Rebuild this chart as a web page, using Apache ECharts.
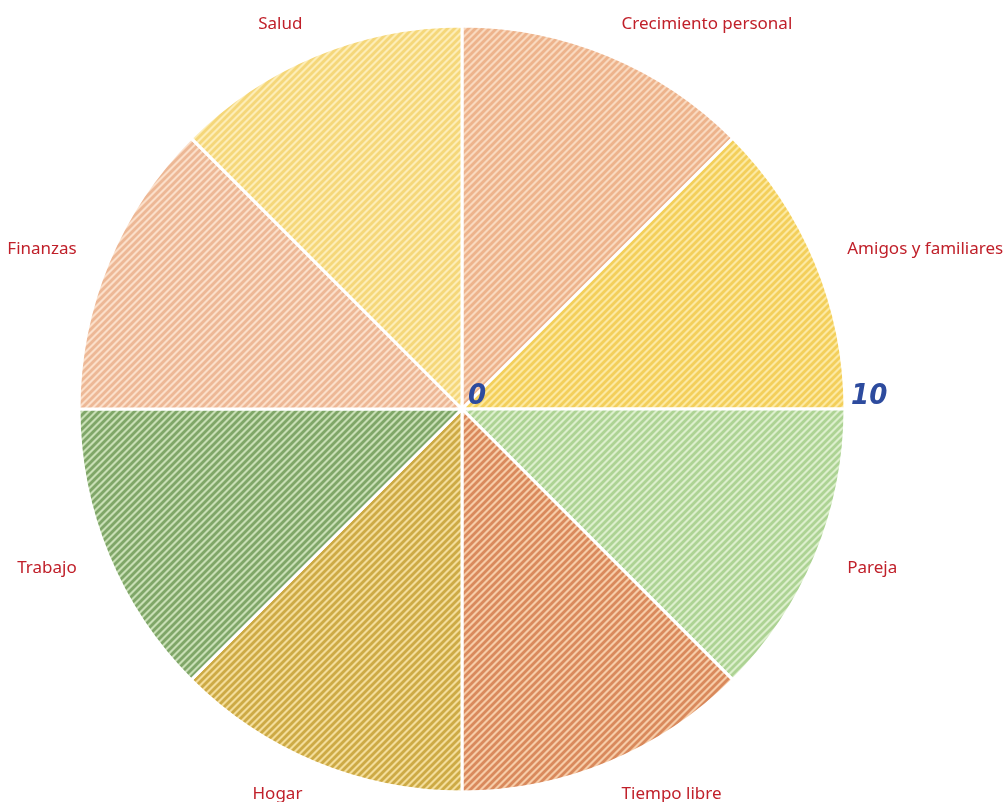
<!DOCTYPE html>
<html><head><meta charset="utf-8">
<script src="https://cdn.jsdelivr.net/npm/echarts@6/dist/echarts.min.js"></script>
<style>html,body{margin:0;padding:0;background:#fff}#c{width:1007px;height:802px}</style>
</head><body><div id="c"></div>
<script>
// Slices clockwise from top
const categories = ['Crecimiento personal','Amigos y familiares','Pareja','Tiempo libre','Hogar','Trabajo','Finanzas','Salud'];
const sliceValues = [1,1,1,1,1,1,1,1];
// Radar indicator order (counterclockwise from 67.5deg)
const radarOrder = ['Crecimiento personal','Salud','Finanzas','Trabajo','Hogar','Tiempo libre','Pareja','Amigos y familiares'];
const scaleMin = 0, scaleMax = 10;
const bgColors = ['#F9D9BF','#FCE9A2','#DCEFCC','#F6CCA8','#F3DD9A','#C8DFB5','#FBDFC9','#FDEDB6'];
const stripeColors = ['#EDB38C','#F3CF5B','#ADD394','#D9895C','#CDAA45','#7FA668','#EDB896','#F5D77A'];

function hatch(bg, fg){
  const s = 7;
  const c = document.createElement('canvas'); c.width = s; c.height = s;
  const g = c.getContext('2d');
  g.fillStyle = bg; g.fillRect(0,0,s,s);
  g.strokeStyle = fg; g.lineWidth = 2.8;
  for (const o of [-s,0,s]) {
    g.beginPath(); g.moveTo(o-1, s+1); g.lineTo(o+s+1, -1); g.stroke();
  }
  return {image: c, repeat: 'repeat'};
}

const chart = echarts.init(document.getElementById('c'), null, {renderer:'canvas'});
const cx = 462, cy = 409, R = 383;
chart.setOption({
  animation: false,
  backgroundColor: '#fff',
  polar: {center:[cx,cy], radius: R},
  angleAxis: {startAngle: 0, show: false, type:'value', min:0, max:360},
  radiusAxis: {
    min: scaleMin, max: scaleMax, interval: 10, type:'value', z: 10,
    axisLine:{show:false}, axisTick:{show:false}, splitLine:{show:false},
    axisLabel:{show:true, showMinLabel:true, showMaxLabel:true, color:'#2D4B9E', fontFamily:'DejaVu Sans Condensed', fontWeight:'bold', fontStyle:'italic', fontSize:29, align:'left', verticalAlign:'bottom', margin:-2, padding:[0,0,0,6]}
  },
  radar: {
    center:[cx,cy], radius: R, startAngle: 67.5, shape:'circle',
    indicator: radarOrder.map(n => ({name:n, min:scaleMin, max:scaleMax})),
    axisName: {color:'#C0202A', fontFamily:'Noto Sans', fontSize:17},
    nameGap: 34,
    axisLine:{show:false}, splitLine:{show:false}, splitArea:{show:false}, axisTick:{show:false}, axisLabel:{show:false}
  },
  series: [{
    type:'pie', center:[cx,cy], radius:[0,R], startAngle:90, clockwise:true, silent:true,
    label:{show:false}, labelLine:{show:false}, z:1,
    itemStyle:{borderColor:'#fff', borderWidth:3},
    data: categories.map((n,i)=>({name:n, value:sliceValues[i], itemStyle:{color:hatch(bgColors[i], stripeColors[i])}}))
  }]
});
</script></body></html>
